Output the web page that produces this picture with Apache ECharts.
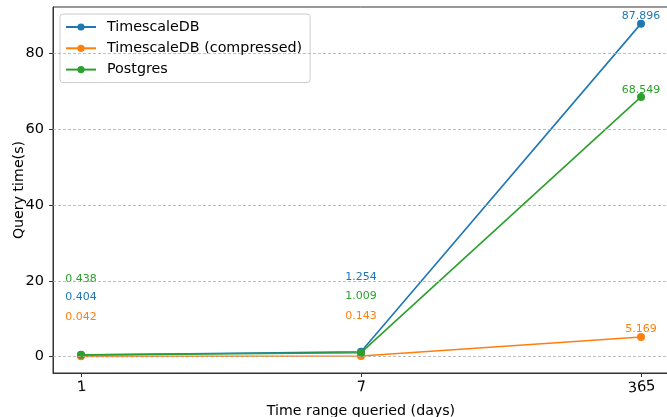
<!DOCTYPE html>
<html>
<head>
<meta charset="utf-8">
<script src="https://cdn.jsdelivr.net/npm/echarts@6/dist/echarts.min.js"></script>
<style>
html,body{margin:0;padding:0;background:#fff;}
#chart{width:667px;height:417px;}
</style>
</head>
<body>
<div id="chart"></div>
<script>
// ---- data ----
const categories = ['1', '7', '365'];
const timescaleDB = [0.404, 1.254, 87.896];
const timescaleCompressed = [0.042, 0.143, 5.169];
const postgres = [0.438, 1.009, 68.549];
const yTicks = [0, 20, 40, 60, 80];

// ---- annotation offsets (pixels, style only) ----
const offTimescale = [-58, -75, -8];
const offCompressed = [-39.5, -39.5, -7.5];
const offPostgres = [-76, -56.5, -7];

const FONT = 'DejaVu Sans';
const C = { blue: '#1f77b4', orange: '#ff7f0e', green: '#2ca02c' };

function buildSeries(name, values, offsets, color, extra) {
  return Object.assign({
    name: name,
    type: 'line',
    data: values.map((v, i) => ({
      value: [i, v],
      label: { offset: [0, offsets[i]] }
    })),
    symbol: 'circle',
    symbolSize: 8,
    showSymbol: true,
    lineStyle: { width: 1.6, color: color },
    itemStyle: { color: color },
    label: {
      show: true,
      position: 'inside',
      align: 'center',
      verticalAlign: 'middle',
      color: color,
      fontFamily: FONT,
      fontSize: 11,
      formatter: p => p.value[1].toFixed(3)
    },
    emphasis: { disabled: true }
  }, extra || {});
}

const chart = echarts.init(document.getElementById('chart'), null, { renderer: 'canvas' });
chart.setOption({
  animation: false,
  backgroundColor: '#fff',
  grid: {
    left: 53, top: 7, right: -2, bottom: 44,
    outerBoundsMode: 'none',
    containLabel: false,
    show: true, borderColor: '#333', borderWidth: 1, backgroundColor: 'transparent'
  },
  legend: {
    orient: 'vertical',
    left: 60, top: 14,
    padding: [6, 8, 6, 5],
    itemGap: 7.3,
    itemWidth: 30,
    itemHeight: 9,
    backgroundColor: 'rgba(255,255,255,0.8)',
    borderColor: '#cccccc',
    borderWidth: 1,
    borderRadius: 3,
    textStyle: { fontFamily: FONT, fontSize: 14.3, color: '#000', padding: [0, 0, 0, 6] },
    data: ['TimescaleDB', 'TimescaleDB (compressed)', 'Postgres']
  },
  xAxis: {
    type: 'value',
    min: -0.1,
    max: 2.1,
    name: 'Time range queried (days)',
    nameLocation: 'middle',
    nameGap: 31,
    nameMoveOverlap: false,
    nameTextStyle: { fontFamily: FONT, fontSize: 14.2, color: '#000' },
    axisLine: { show: true, onZero: false, lineStyle: { color: '#333', width: 1 } },
    axisTick: { show: true, inside: false, length: 4, customValues: [0, 1, 2], lineStyle: { color: '#333' } },
    axisLabel: {
      customValues: [0, 1, 2],
      formatter: v => categories[Math.round(v)],
      rotate: 5,
      align: 'center',
      verticalAlign: 'top',
      margin: 7,
      fontFamily: FONT, fontSize: 14.5, color: '#000'
    },
    splitLine: { show: false }
  },
  yAxis: {
    type: 'value',
    min: -4.35,
    max: 92.29,
    name: 'Query time(s)',
    nameLocation: 'middle',
    nameGap: 27,
    nameMoveOverlap: false,
    nameTextStyle: { fontFamily: FONT, fontSize: 14.2, color: '#000' },
    axisLine: { show: true, onZero: false, lineStyle: { color: '#333', width: 1 } },
    axisTick: { show: true, inside: false, length: 4, customValues: yTicks, lineStyle: { color: '#333' } },
    axisLabel: {
      customValues: yTicks,
      margin: 9,
      fontFamily: FONT, fontSize: 14.5, color: '#000'
    },
    splitLine: { show: false }
  },
  series: [
    buildSeries('TimescaleDB', timescaleDB, offTimescale, C.blue, {
      markLine: {
        silent: true,
        symbol: ['none', 'none'],
        label: { show: false },
        lineStyle: { type: [3, 2], color: '#b0b0b0', width: 0.8 },
        emphasis: { disabled: true },
        data: yTicks.map(v => ({ yAxis: v }))
      }
    }),
    buildSeries('TimescaleDB (compressed)', timescaleCompressed, offCompressed, C.orange),
    buildSeries('Postgres', postgres, offPostgres, C.green)
  ]
});
</script>
</body>
</html>
